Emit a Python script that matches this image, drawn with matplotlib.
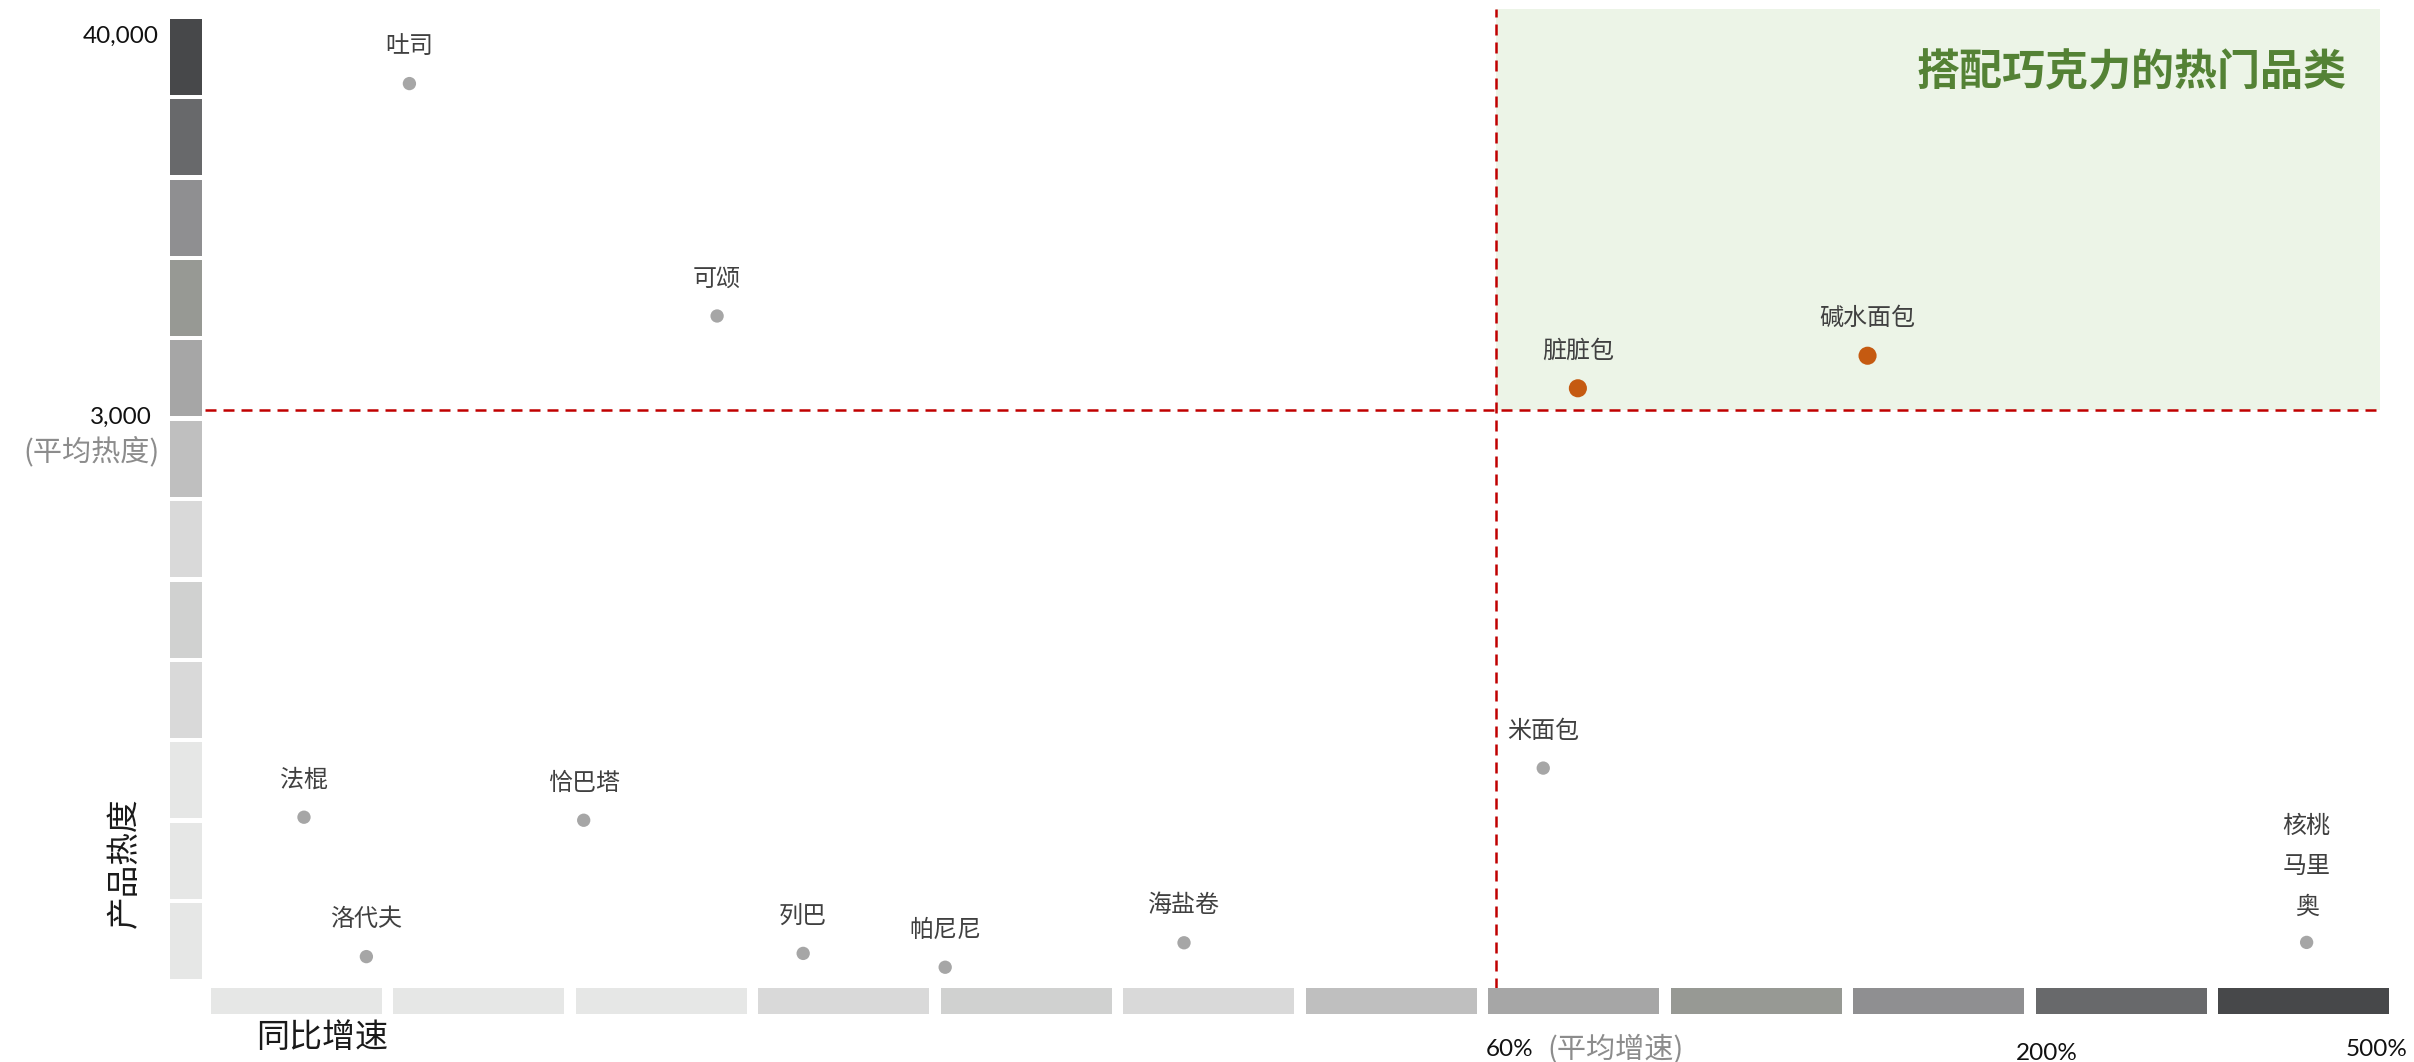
import numpy as np
import matplotlib
matplotlib.use("Agg")
import matplotlib.pyplot as plt

plt.rcParams['font.family'] = ['Noto Sans CJK SC', 'DejaVu Sans']

# data: year-on-year growth (%) and product heat
names = ['吐司', '可颂', '脏脏包', '碱水面包', '米面包', '法棍', '恰巴塔',
         '洛代夫', '列巴', '帕尼尼', '海盐卷', '核桃\n马里\n奥']
growth = [9.5, 23.8, 80.8, 154.4, 72.0, 4.6, 17.6, 7.5, 27.8, 34.4, 45.5, 436.0]
heat = [34700, 12130, 5110, 8270, 1112, 853, 837, 118, 135, 62, 191, 193]

avg_growth = 60
avg_heat = 3000
x_ticks = [60, 200, 500]
x_tick_labels = ['60%', '200%', '500%']
y_ticks = [40000, 3000]
y_tick_labels = ['40,000', '3,000']

# grey scale strip, light -> dark
scale_colors = ['#e6e7e6', '#e6e7e6', '#e6e7e6', '#d9d9d9', '#d0d1d0', '#d9d9d9',
                '#bfbfbf', '#a6a6a6', '#979994', '#8f8f91', '#68696b', '#47484a']

# piecewise axis breaks (value -> position along the axis)
x_breaks = [0, 60, 200, 500, 1000]
x_break_pos = [0, 1291, 1842, 2172, 2722]
y_breaks = [0, 3000, 40000, 80000]
y_break_pos = [0, 569, 950, 1362]


def make_scale(vals, pos):
    vals = np.array(vals, float)
    pos = np.array(pos, float)
    fwd = lambda v: np.interp(v, vals, pos)
    inv = lambda p: np.interp(p, pos, vals)
    return fwd, inv


W, H = 2414, 1062
fig = plt.figure(figsize=(W / 100, H / 100), dpi=100)


def rect(x0, y0, x1, y1):
    return [x0 / W, 1 - y1 / H, (x1 - x0) / W, (y1 - y0) / H]


ax = fig.add_axes(rect(205, 9, 2380, 979))
ax.set_xscale('function', functions=make_scale(x_breaks, x_break_pos))
ax.set_yscale('function', functions=make_scale(y_breaks, y_break_pos))
ax.set_xlim(0, 502.7)
ax.set_ylim(0, 41942)
for s in ax.spines.values():
    s.set_visible(False)
ax.set_xticks([])
ax.set_yticks([])

# highlighted quadrant
ax.fill_between([avg_growth, 502.7], avg_heat, 41942, color='#ecf4e7', lw=0, zorder=0)
ax.axhline(avg_heat, color='#c00000', lw=1.8, dashes=(4.4, 2.8), zorder=1)
ax.axvline(avg_growth, ymin=-0.01, ymax=1, color='#c00000', lw=1.8,
           dashes=(4.4, 2.8), zorder=1, clip_on=False)

hot = [(g > avg_growth) and (h > avg_heat) for g, h in zip(growth, heat)]
cols = ['#c55a11' if f else '#a6a6a6' for f in hot]
sizes = [170 if f else 92 for f in hot]
ax.scatter(growth, heat, s=sizes, c=cols, lw=0, zorder=3)

for n, g, h in zip(names, growth, heat):
    dy = 55 if '\n' in n else 27
    ax.annotate(n, (g, h), xytext=(0, dy), textcoords='offset points',
                ha='center', va='center', fontsize=17.3, color='#404040',
                linespacing=1.72)

ax.text(0.9845, 0.935, '搭配巧克力的热门品类', transform=ax.transAxes,
        ha='right', va='center', fontsize=31, fontweight='black', color='#548235')

# axis value labels
num_font = ['Lato', 'DejaVu Sans']
ytr = ax.get_yaxis_transform()
ax.annotate(y_tick_labels[0], (0, y_ticks[0]), xycoords=ytr, xytext=(-33, -5),
            textcoords='offset points', ha='right', va='center', fontsize=17.5,
            family=num_font, color='#111111', annotation_clip=False)
ax.annotate(y_tick_labels[1], (0, y_ticks[1]), xycoords=ytr, xytext=(-38, -5),
            textcoords='offset points', ha='right', va='center', fontsize=17.5,
            family=num_font, color='#111111', annotation_clip=False)
ax.annotate('(平均热度)', (0, avg_heat), xycoords=ytr, xytext=(-33, -30),
            textcoords='offset points', ha='right', va='center', fontsize=21,
            color='#8c8c8c', annotation_clip=False)

xtr = ax.get_xaxis_transform()
x_offsets = [(9.4, -50.4), (0, -53.3), (0, -51)]
for v, lab, off in zip(x_ticks, x_tick_labels, x_offsets):
    ax.annotate(lab, (v, 0), xycoords=xtr, xytext=off, textcoords='offset points',
                ha='center', va='center', fontsize=17.5, family=num_font,
                color='#111111', annotation_clip=False)
ax.annotate('(平均增速)', (avg_growth, 0), xycoords=xtr, xytext=(36.7, -50.4),
            textcoords='offset points', ha='left', va='center', fontsize=21,
            color='#8c8c8c', annotation_clip=False)

# grey scale strips
n = len(scale_colors)
axl = fig.add_axes(rect(170, 19, 202, 979))
axl.barh(np.arange(n), 1, height=0.945, color=scale_colors, lw=0)
axl.set_ylim(-0.4725, n - 0.5275)
axl.set_xlim(0, 1)
axl.axis('off')

axb = fig.add_axes(rect(211, 988, 2389, 1014))
axb.bar(np.arange(n), 1, width=0.936, color=scale_colors, lw=0)
axb.set_xlim(-0.468, n - 0.532)
axb.set_ylim(0, 1)
axb.axis('off')

fig.text(125 / W, 1 - 863 / H, '产品热度', rotation=90, ha='center', va='center',
         fontsize=23.5, color='#1a1a1a')
fig.text(322 / W, 1 - 1038 / H, '同比增速', ha='center', va='center',
         fontsize=23.8, color='#1a1a1a')

fig.savefig('out.png', dpi=100)
